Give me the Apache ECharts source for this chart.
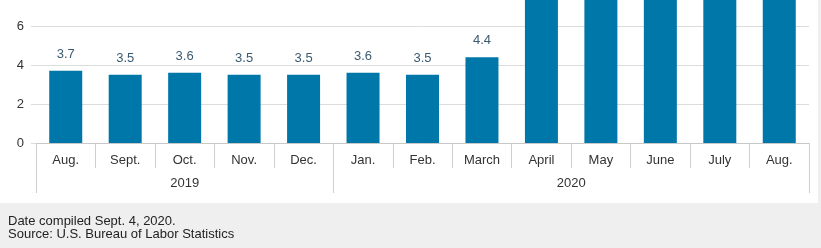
<!DOCTYPE html>
<html>
<head>
<meta charset="utf-8">
<script src="https://cdn.jsdelivr.net/npm/echarts@6/dist/echarts.min.js"></script>
<style>
html,body{margin:0;padding:0;background:#efefef;}
#chart{width:821px;height:248px;}
</style>
</head>
<body>
<div id="chart"></div>
<script>
const months = ['Aug.', 'Sept.', 'Oct.', 'Nov.', 'Dec.', 'Jan.', 'Feb.', 'March', 'April', 'May', 'June', 'July', 'Aug.'];
const rates = [3.7, 3.5, 3.6, 3.5, 3.5, 3.6, 3.5, 4.4, 14.7, 13.3, 11.1, 10.2, 8.4];
const years = ['2019', '2020'];
const yearSpans = [5, 8];
const yTicks = [0, 2, 4, 6, 8];
const footer = ['Date compiled Sept. 4, 2020.', 'Source: U.S. Bureau of Labor Statistics'];

// half-step positions for the year axis (boundaryGap false)
const halfCount = months.length * 2 + 1;
const halfData = [];
for (let i = 0; i < halfCount; i++) halfData.push(String(i));
const yearBoundaries = new Set([0]);
const yearCenter = {};
let acc = 0;
years.forEach((y, k) => {
  yearCenter[2 * acc + yearSpans[k]] = y;
  acc += yearSpans[k];
  yearBoundaries.add(acc * 2);
});

const FONT = 'Liberation Sans';
const chart = echarts.init(document.getElementById('chart'));
chart.setOption({
  backgroundColor: 'transparent',
  animation: false,
  textStyle: { fontFamily: FONT },
  graphic: [{
    type: 'rect', z: -10, silent: true,
    shape: { x: 0, y: 0, width: 818, height: 203 },
    style: { fill: '#ffffff' }
  }],
  title: {
    text: footer.join('\n'),
    left: 3, top: 210,
    textStyle: { fontFamily: FONT, fontSize: 13, fontWeight: 'normal', color: '#222', lineHeight: 13 }
  },
  grid: { left: 36, right: 12, top: -13, bottom: 105, containLabel: false, outerBoundsMode: 'none' },
  xAxis: [{
    type: 'category',
    data: months,
    position: 'bottom',
    axisLine: { lineStyle: { color: '#c8c8c8', width: 1 } },
    axisTick: { show: true, length: 25, lineStyle: { color: '#cfcfcf' } },
    axisLabel: { interval: 0, margin: 11, fontSize: 13, color: '#333', fontFamily: FONT }
  }, {
    type: 'category',
    data: halfData,
    boundaryGap: false,
    position: 'bottom',
    axisLine: { show: false },
    axisTick: {
      show: true, length: 50,
      interval: (i) => yearBoundaries.has(i),
      lineStyle: { color: '#cfcfcf' }
    },
    axisLabel: {
      interval: 0, margin: 34, fontSize: 13, color: '#333', fontFamily: FONT,
      formatter: (v, i) => yearCenter[i] || ''
    },
    splitLine: { show: false }
  }],
  yAxis: {
    type: 'value',
    min: yTicks[0], max: yTicks[yTicks.length - 1], interval: 2,
    axisLine: { show: false },
    axisTick: { show: true, length: 5, lineStyle: { color: '#dcdcdc' } },
    axisLabel: { margin: 12, fontSize: 13, color: '#333', fontFamily: FONT },
    splitLine: { lineStyle: { color: '#dcdcdc' } }
  },
  series: [{
    type: 'bar',
    data: rates,
    xAxisIndex: 0,
    barWidth: 33,
    itemStyle: { color: '#0077a9' },
    label: {
      show: true, position: 'top', distance: 10,
      fontSize: 13, color: '#3b5b70', fontFamily: FONT,
      formatter: (p) => p.value.toFixed(1)
    }
  }]
});
</script>
</body>
</html>
